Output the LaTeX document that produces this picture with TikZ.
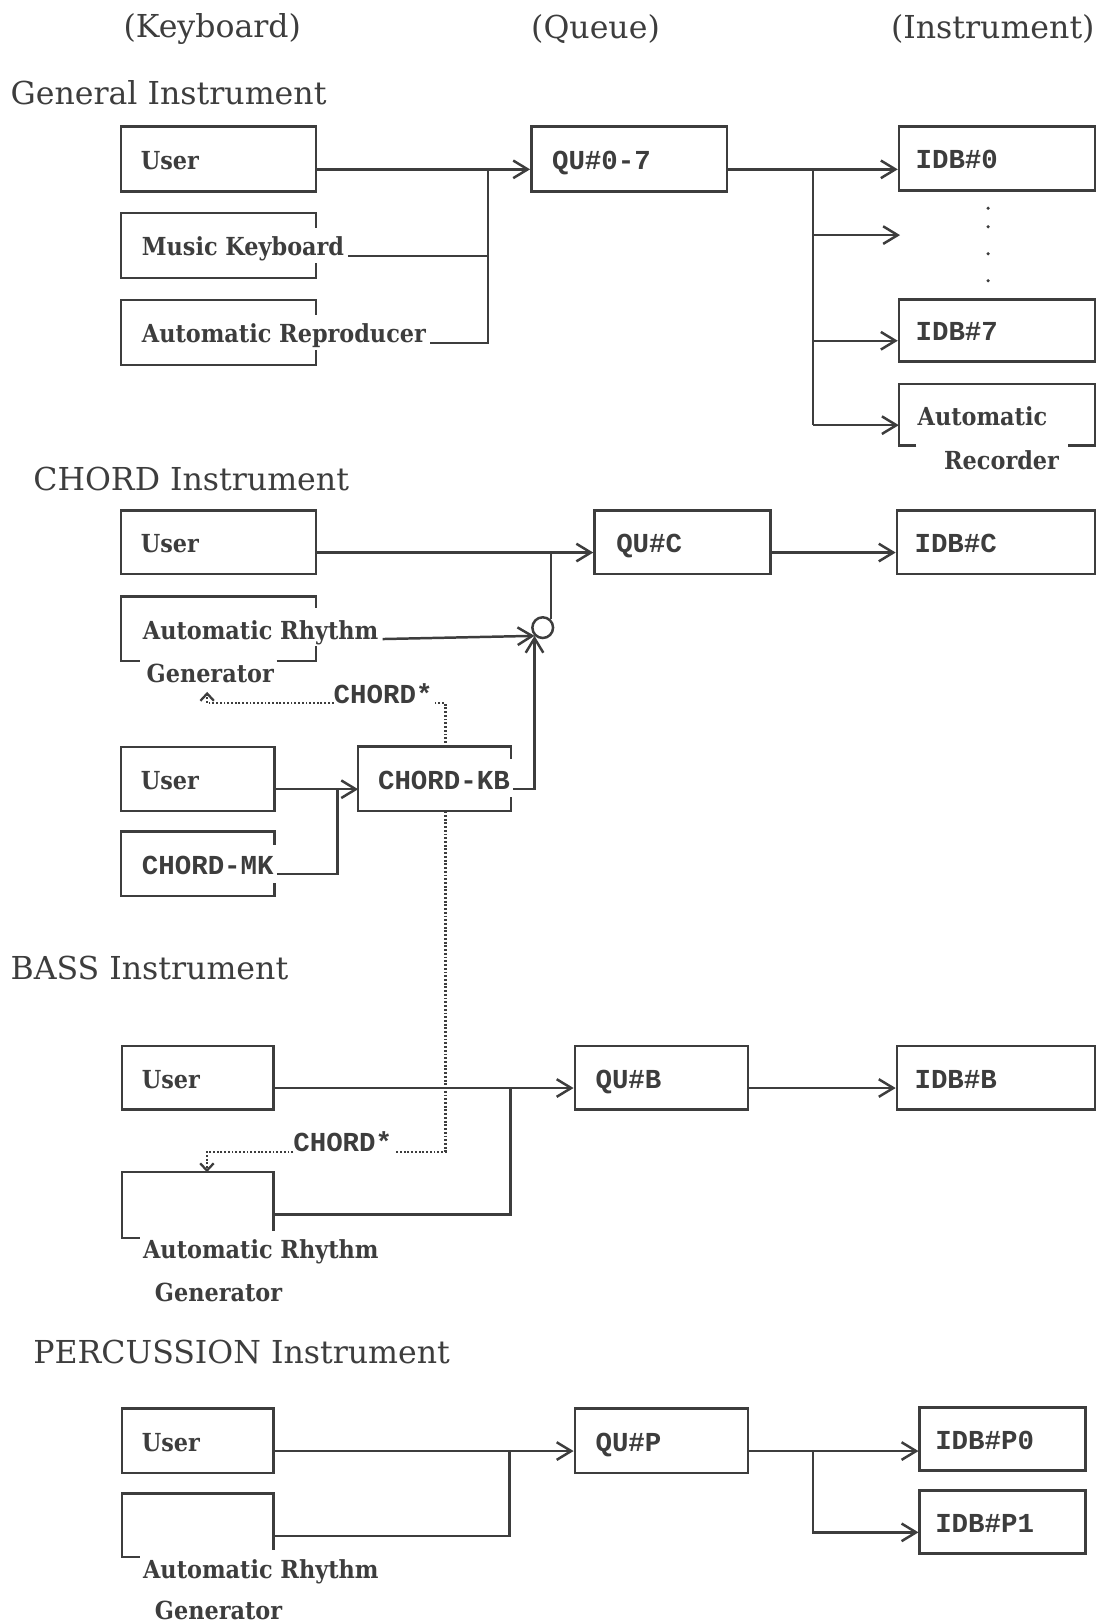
\documentclass[tikz,border=0pt]{standalone}
\usepackage{fontspec}
\usepackage{tikz}
\usetikzlibrary{arrows.meta,positioning,fit,calc}
\newfontfamily\ttlfont{DejaVu Serif}
\newfontfamily\lblfont[FakeStretch=0.9]{DejaVu Serif}
\newfontfamily\codefont{Liberation Mono}
\definecolor{ink}{HTML}{3D3D3D}
\tikzset{
  wire/.style={draw=ink, line width=2.4pt},
  arr/.style={wire, -{Straight Barb[length=14pt,width=17pt]}},
  sig/.style={draw=ink, line width=2.2pt, dash pattern=on 1.8pt off 1.8pt},
  sigtip/.style={sig, -{Straight Barb[length=7pt,width=13pt]}},
  box/.style={draw=ink, line width=2.4pt, inner sep=0pt},
  frame/.style={inner sep=0pt},
  lbl/.style={font=\lblfont\bfseries\fontsize{24}{26}\selectfont, text=ink,
              inner sep=0pt, anchor=base west},
  code/.style={font=\codefont\bfseries\fontsize{26.5}{28}\selectfont, text=ink,
               inner sep=0pt, anchor=base west},
  ttl/.style={font=\ttlfont\fontsize{30.5}{34}\selectfont, text=ink, inner sep=0pt}
}
\begin{document}
\begin{tikzpicture}[x=1pt,y=-1pt]
  \useasboundingbox (0,0) rectangle (1059,1568);

  % column heads
  \node[ttl] (hkey) at (205,28) {(Keyboard)};
  \node[ttl] (hque) at (575,28) {(Queue)};
  \node[ttl,anchor=east] (hins) at (1057,28) {(Instrument)};

  % ---- General Instrument
  \node[ttl,anchor=west] (tgen) at (10,90) {General Instrument};
  \node[box,fit={(117,122) (305,185)}] (gusr) {};
  \node[lbl] (gusrt) at ([xshift=20pt,yshift=-10pt]gusr.west) {User};
  \node[frame,fit={(117,206) (305,268)}] (gmk) {};
  \node[lbl] (gmkt) at ([xshift=20pt,yshift=-10pt]gmk.west) {Music Keyboard};
  \draw[wire] ([yshift=-14pt]gmk.north east) -- (gmk.north east) -- (gmk.north west)
    -- (gmk.south west) -- (gmk.south east) -- ([yshift=14pt]gmk.south east);
  \node[frame,fit={(117,290) (305,352)}] (gar) {};
  \node[lbl] (gart) at ([xshift=20pt,yshift=-10pt]gar.west) {Automatic Reproducer};
  \draw[wire] ([yshift=-14pt]gar.north east) -- (gar.north east) -- (gar.north west)
    -- (gar.south west) -- (gar.south east) -- ([yshift=14pt]gar.south east);

  \node[box,fit={(513,122) (702,185)}] (gq) {};
  \node[code] (gqt) at ([xshift=21pt,yshift=-10pt]gq.west) {QU\#0-7};

  \node[box,fit={(868,122) (1057,184)}] (gi0) {};
  \node[code] (gi0t) at ([xshift=17pt,yshift=-10pt]gi0.west) {IDB\#0};
  \node[box,fit={(868,289) (1057,349)}] (gi7) {};
  \node[code] (gi7t) at ([xshift=17pt,yshift=-10pt]gi7.west) {IDB\#7};
  \node[frame,fit={(868,371) (1057,430)}] (grec) {};
  \node[lbl] (grect) at ([xshift=18pt,yshift=-10pt]grec.west) {Automatic};
  \node[lbl,anchor=center] (grect2) at (967,444) {Recorder};
  \draw[wire] ([xshift=17pt]grec.south west) -- (grec.south west) -- (grec.north west)
    -- (grec.north east) -- (grec.south east) -- ([xshift=-26pt]grec.south east);
  \foreach \yy in {201,219,245,271}
    \fill[ink] (954,\yy) circle (1.7pt);

  \coordinate (gj) at (471,0);
  \coordinate (gb) at (785,0);
  \coordinate (gmid) at (869,227);
  \draw[arr] (gusrt.base -| gusr.east) -- (gusrt.base -| gq.west);
  \draw[wire] ([xshift=4pt]gmkt.base east) -| (gj |- gusrt.base);
  \draw[wire] ([xshift=4pt]gart.base east) -| (gj |- gusrt.base);
  \draw[arr] (gqt.base -| gq.east) -- (gqt.base -| gi0.west);
  \draw[wire] (gb |- gqt.base) -- (gb |- grect.base);
  \draw[arr] (gb |- gmid) -- (gmid);
  \draw[arr] (gb |- gi7t.base) -- (gi7t.base -| gi7.west);
  \draw[arr] (gb |- grect.base) -- (grect.base -| grec.west);

  % ---- CHORD Instrument
  \node[ttl,anchor=west] (tcho) at (32,462) {CHORD Instrument};
  \node[box,fit={(117,493) (305,554)}] (cusr) {};
  \node[lbl] (cusrt) at ([xshift=20pt,yshift=-10pt]cusr.west) {User};
  \node[box,fit={(574,493) (744,554)}] (cq) {};
  \node[code] (cqt) at ([xshift=22pt,yshift=-10pt]cq.west) {QU\#C};
  \node[box,fit={(866,493) (1057,554)}] (ci) {};
  \node[code] (cit) at ([xshift=18pt,yshift=-10pt]ci.west) {IDB\#C};
  \node[circle,draw=ink,line width=2.4pt,minimum size=20pt,inner sep=0pt] (mix) at (524,606) {};

  \node[frame,fit={(117,576) (305,638)}] (carg) {};
  \node[lbl] (cargt) at ([xshift=21pt,yshift=-10pt]carg.west) {Automatic Rhythm};
  \node[lbl,anchor=center] (cargt2) at (203,650) {Generator};
  \draw[wire] ([yshift=-11pt]carg.north east) -- (carg.north east) -- (carg.north west)
    -- (carg.south west) -- ([xshift=18pt]carg.south west);
  \draw[wire] ([xshift=-38pt]carg.south east) -- (carg.south east) -- ([yshift=14pt]carg.south east);

  \node[box,fit={(117,721) (265,783)}] (cusr2) {};
  \node[lbl] (cusr2t) at ([xshift=20pt,yshift=-10pt]cusr2.west) {User};
  \node[frame,fit={(346,721) (493,783)}] (ckb) {};
  \node[code] (ckbt) at ([xshift=19pt,yshift=-10pt]ckb.west) {CHORD-KB};
  \draw[wire] ([yshift=-12pt]ckb.north east) -- (ckb.north east) -- (ckb.north west)
    -- (ckb.south west) -- (ckb.south east) -- ([yshift=14pt]ckb.south east);
  \node[frame,fit={(117,803) (265,865)}] (cmk) {};
  \node[code] (cmkt) at ([xshift=20pt,yshift=-10pt]cmk.west) {CHORD-MK};
  \draw[wire] ([yshift=-13pt]cmk.north east) -- (cmk.north east) -- (cmk.north west)
    -- (cmk.south west) -- (cmk.south east) -- ([yshift=13pt]cmk.south east);

  \coordinate (cj) at (326,0);
  \draw[arr] (cusrt.base -| cusr.east) -- (cusrt.base -| cq.west);
  \draw[wire] (mix.north east) -- (mix.north east |- cusrt.base);
  \draw[arr] (cqt.base -| cq.east) -- (cqt.base -| ci.west);
  \draw[arr] ([xshift=4pt]cargt.base east) -- (mix.south west);
  \draw[arr] (cusr2t.base -| cusr2.east) -- (cusr2t.base -| ckb.west);
  \draw[wire] ([xshift=3pt]cmkt.base east) -| (cj |- cusr2t.base);
  \draw[arr] ([xshift=3pt]ckbt.base east) -| (mix.south west);

  % chord signal to the rhythm generators
  \coordinate (ctap) at (430,0);
  \coordinate (cgen) at (200,668);
  \node[code,anchor=base west] (cstar) at (322,679) {CHORD*};
  \draw[sig] (ctap |- ckb.north) |- (cstar.base east);
  \draw[sigtip] (cstar.base west) -| (cgen);

  % ---- BASS Instrument
  \node[ttl,anchor=west] (tbas) at (10,935) {BASS Instrument};
  \node[box,fit={(118,1010) (264,1071)}] (busr) {};
  \node[lbl] (busrt) at ([xshift=20pt,yshift=-10pt]busr.west) {User};
  \node[box,fit={(555,1010) (722,1071)}] (bq) {};
  \node[code] (bqt) at ([xshift=21pt,yshift=-10pt]bq.west) {QU\#B};
  \node[box,fit={(866,1010) (1057,1071)}] (bi) {};
  \node[code] (bit) at ([xshift=18pt,yshift=-10pt]bi.west) {IDB\#B};
  \node[frame,fit={(118,1132) (264,1195)}] (barg) {};
  \draw[wire] ([xshift=17pt]barg.south west) -- (barg.south west) -- (barg.north west)
    -- (barg.north east) -- ([yshift=7pt]barg.south east);
  \node[lbl] (bargt) at (138,1215) {Automatic Rhythm};
  \node[lbl,anchor=center] (bargt2) at (211,1248) {Generator};

  \coordinate (bj) at (493,0);
  \draw[arr] (busrt.base -| busr.east) -- (busrt.base -| bq.west);
  \draw[wire] ([yshift=-41pt]barg.north east) -| (bj |- busrt.base);
  \draw[arr] (bqt.base -| bq.east) -- (bqt.base -| bi.west);

  \node[code,anchor=base west] (bstar) at (283,1112) {CHORD*};
  \draw[sig] (ctap |- ckb.south) |- ([xshift=4pt]bstar.base east);
  \draw[sigtip] (bstar.base west) -| ([xshift=82pt]barg.north west);

  % ---- PERCUSSION Instrument
  \node[ttl,anchor=west] (tper) at (32,1305) {PERCUSSION Instrument};
  \node[box,fit={(118,1360) (264,1422)}] (pusr) {};
  \node[lbl] (pusrt) at ([xshift=20pt,yshift=-10pt]pusr.west) {User};
  \node[box,fit={(555,1360) (722,1422)}] (pq) {};
  \node[code] (pqt) at ([xshift=21pt,yshift=-10pt]pq.west) {QU\#P};
  \node[box,fit={(888,1359) (1048,1420)}] (pi0) {};
  \node[code] (pi0t) at ([xshift=16pt,yshift=-10pt]pi0.west) {IDB\#P0};
  \node[box,fit={(888,1439) (1048,1500)}] (pi1) {};
  \node[code] (pi1t) at ([xshift=16pt,yshift=-10pt]pi1.west) {IDB\#P1};
  \node[frame,fit={(118,1442) (264,1503)}] (parg) {};
  \draw[wire] ([xshift=17pt]parg.south west) -- (parg.south west) -- (parg.north west)
    -- (parg.north east) -- ([yshift=7pt]parg.south east);
  \node[lbl] (pargt) at (138,1524) {Automatic Rhythm};
  \node[lbl,anchor=center] (pargt2) at (211,1555) {Generator};

  \coordinate (pj) at (492,0);
  \coordinate (pb) at (785,0);
  \draw[arr] (pusrt.base -| pusr.east) -- (pusrt.base -| pq.west);
  \draw[wire] ([yshift=-41pt]parg.north east) -| (pj |- pusrt.base);
  \draw[arr] (pqt.base -| pq.east) -- (pqt.base -| pi0.west);
  \draw[arr] (pb |- pqt.base) |- (pi1t.base -| pi1.west);
\end{tikzpicture}
\end{document}
